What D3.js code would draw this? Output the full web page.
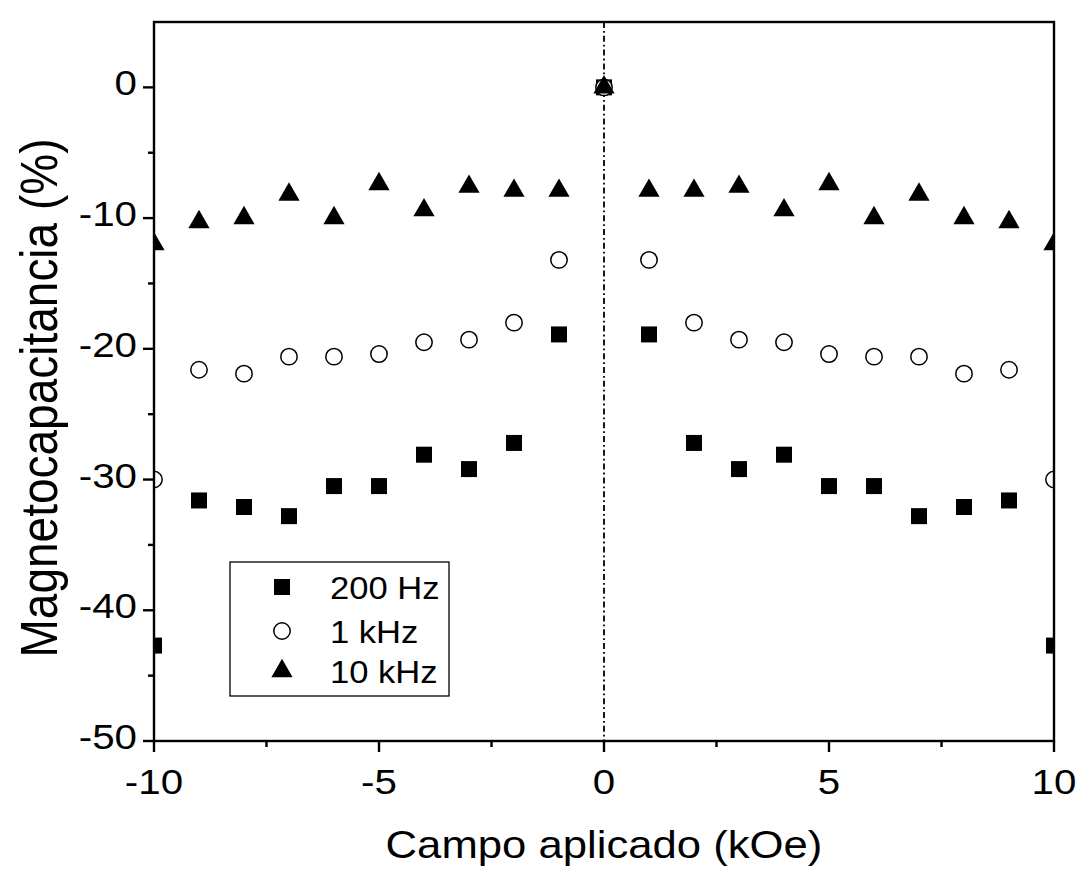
<!DOCTYPE html>
<html>
<head>
<meta charset="utf-8">
<script src="https://cdn.jsdelivr.net/npm/d3@7"></script>
<style>
  html, body { margin: 0; padding: 0; background: #fff; }
  svg { display: block; }
  text { font-family: "Liberation Sans", Arial, sans-serif; fill: #000; }
</style>
</head>
<body>
<svg id="chart" width="1082" height="877"></svg>
<script>
// Applied field (kOe)
const field = [-10, -9, -8, -7, -6, -5, -4, -3, -2, -1, 0, 1, 2, 3, 4, 5, 6, 7, 8, 9, 10];
// Magnetocapacitance (%) at each frequency
const mc200Hz = [-42.7, -31.6, -32.1, -32.8, -30.5, -30.5, -28.1, -29.2, -27.2, -18.9, 0,
                 -18.9, -27.2, -29.2, -28.1, -30.5, -30.5, -32.8, -32.1, -31.6, -42.7];
const mc1kHz  = [-30.0, -21.6, -21.9, -20.6, -20.6, -20.4, -19.5, -19.3, -18.0, -13.2, 0,
                 -13.2, -18.0, -19.3, -19.5, -20.4, -20.6, -20.6, -21.9, -21.6, -30.0];
const mc10kHz = [-12.0, -10.3, -10.0, -8.2, -10.0, -7.4, -9.4, -7.6, -7.9, -7.9, 0,
                 -7.9, -7.9, -7.6, -9.4, -7.4, -10.0, -8.2, -10.0, -10.3, -12.0];
const seriesNames = ["200 Hz", "1 kHz", "10 kHz"];
const xTicks = [-10, -5, 0, 5, 10];
const yTicks = [0, -10, -20, -30, -40, -50];

const svg = d3.select("#chart");
const L = 154, R = 1054, T = 22, B = 741;
const SX = 1.12; // horizontal stretch of the lettering

const x = d3.scaleLinear().domain([-10, 10]).range([L, R]);
const y = d3.scaleLinear().domain([-50, 5]).range([B, T]);

// clip to plot area
svg.append("defs").append("clipPath").attr("id", "plotClip")
  .append("rect").attr("x", L).attr("y", T).attr("width", R - L).attr("height", B - T);

// vertical dash-dot reference line at zero field
svg.append("line")
  .attr("x1", x(0)).attr("x2", x(0)).attr("y1", T).attr("y2", B)
  .attr("stroke", "#000").attr("stroke-width", 1.8)
  .attr("stroke-dasharray", "6,3,1.8,3");

// symbol generators
const sq = d3.symbol().type(d3.symbolSquare).size(16 * 16);
const tri = d3.symbol().type(d3.symbolTriangle).size(195);
const circ = d3.symbol().type(d3.symbolCircle).size(Math.PI * 8.2 * 8.2);

function styleMarker(sel, kind) {
  if (kind === "square") sel.attr("d", sq).attr("fill", "#000");
  else if (kind === "circle") sel.attr("d", circ).attr("fill", "#fff")
      .attr("stroke", "#000").attr("stroke-width", 1.5);
  else sel.attr("d", tri).attr("fill", "#000");
}

const g = svg.append("g").attr("clip-path", "url(#plotClip)");

function drawSeries(vals, kind) {
  const sel = g.append("g").selectAll("path").data(field.map((f, i) => [f, vals[i]])).join("path")
    .attr("transform", d => `translate(${x(d[0])},${y(d[1])})`);
  styleMarker(sel, kind);
}
drawSeries(mc200Hz, "square");
drawSeries(mc1kHz, "circle");
drawSeries(mc10kHz, "triangle");

// frame
svg.append("rect").attr("x", L).attr("y", T).attr("width", R - L).attr("height", B - T)
  .attr("fill", "none").attr("stroke", "#000").attr("stroke-width", 2.4);

// bottom axis
const xAxis = svg.append("g").attr("transform", `translate(0,${B})`);
xAxis.selectAll("line.major").data(xTicks).join("line")
  .attr("class", "major")
  .attr("x1", d => x(d)).attr("x2", d => x(d)).attr("y1", 0).attr("y2", 11)
  .attr("stroke", "#000").attr("stroke-width", 2.4);
xAxis.selectAll("line.minor").data([-7.5, -2.5, 2.5, 7.5]).join("line")
  .attr("class", "minor")
  .attr("x1", d => x(d)).attr("x2", d => x(d)).attr("y1", 0).attr("y2", 6)
  .attr("stroke", "#000").attr("stroke-width", 2.4);
xAxis.selectAll("text").data(xTicks).join("text")
  .attr("transform", d => `translate(${x(d)},53) scale(${SX},1)`)
  .attr("text-anchor", "middle")
  .attr("font-size", 36).text(d => d);

// left axis
const yAxis = svg.append("g").attr("transform", `translate(${L},0)`);
yAxis.selectAll("line.major").data(yTicks).join("line")
  .attr("class", "major")
  .attr("x1", -11).attr("x2", 0).attr("y1", d => y(d)).attr("y2", d => y(d))
  .attr("stroke", "#000").attr("stroke-width", 2.4);
yAxis.selectAll("line.minor").data([-5, -15, -25, -35, -45]).join("line")
  .attr("class", "minor")
  .attr("x1", -6).attr("x2", 0).attr("y1", d => y(d)).attr("y2", d => y(d))
  .attr("stroke", "#000").attr("stroke-width", 2.4);
yAxis.selectAll("text").data(yTicks).join("text")
  .attr("transform", d => `translate(-17,${y(d) + 8}) scale(${SX},1)`)
  .attr("text-anchor", "end")
  .attr("font-size", 36).text(d => d);

// axis titles
svg.append("text")
  .attr("transform", `translate(${x(0)},858) scale(1.12,1)`)
  .attr("text-anchor", "middle").attr("font-size", 39).text("Campo aplicado (kOe)");
svg.append("text")
  .attr("transform", `translate(57,398) scale(1.12,1) rotate(-90)`)
  .attr("text-anchor", "middle").attr("font-size", 46).text("Magnetocapacitancia (%)");

// legend
const lg = svg.append("g");
lg.append("rect").attr("x", 230).attr("y", 562).attr("width", 219).attr("height", 134)
  .attr("fill", "#fff").attr("stroke", "#000").attr("stroke-width", 1.3);
const rowY = [587, 631, 671];
const kinds = ["square", "circle", "triangle"];
seriesNames.forEach((name, i) => {
  const p = lg.append("path").attr("transform", `translate(282,${rowY[i]})`);
  styleMarker(p, kinds[i]);
  lg.append("text")
    .attr("transform", `translate(330,${rowY[i] + 12}) scale(1.08,1)`)
    .attr("font-size", 32).text(name);
});
</script>
</body>
</html>
